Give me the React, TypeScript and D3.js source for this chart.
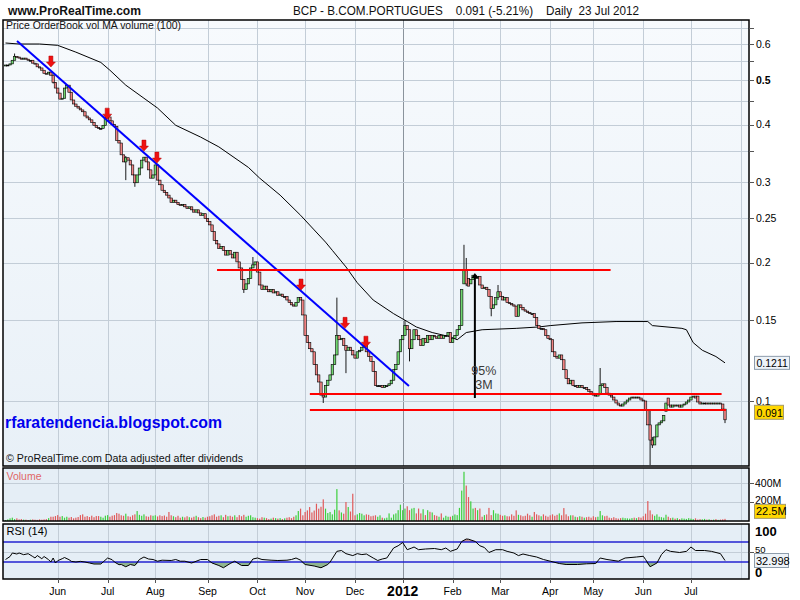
import React from 'react';
import * as d3 from 'd3';

// ---------- DATA ----------
const closes = [
  0.540, 0.540, 0.543, 0.553, 0.564, 0.562, 0.559, 0.556, 0.559, 0.556,
  0.553, 0.553, 0.545, 0.543, 0.535, 0.532, 0.526, 0.518, 0.516, 0.521,
  0.513, 0.495, 0.481, 0.469, 0.455, 0.457, 0.481, 0.488, 0.471, 0.453,
  0.444, 0.439, 0.435, 0.431, 0.427, 0.418, 0.414, 0.410, 0.405, 0.399,
  0.395, 0.393, 0.393, 0.399, 0.414, 0.416, 0.408, 0.401, 0.397, 0.370,
  0.365, 0.344, 0.332, 0.339, 0.335, 0.327, 0.311, 0.299, 0.311, 0.322,
  0.335, 0.340, 0.332, 0.319, 0.306, 0.311, 0.327, 0.303, 0.296, 0.288,
  0.285, 0.281, 0.277, 0.271, 0.274, 0.271, 0.268, 0.267, 0.268, 0.265,
  0.263, 0.265, 0.261, 0.258, 0.261, 0.257, 0.254, 0.256, 0.250, 0.246,
  0.242, 0.234, 0.224, 0.220, 0.215, 0.217, 0.213, 0.208, 0.213, 0.209,
  0.205, 0.211, 0.201, 0.195, 0.184, 0.175, 0.180, 0.185, 0.195, 0.198,
  0.201, 0.191, 0.179, 0.175, 0.178, 0.175, 0.173, 0.175, 0.172, 0.173,
  0.170, 0.171, 0.169, 0.169, 0.166, 0.164, 0.162, 0.161, 0.164, 0.168,
  0.166, 0.154, 0.139, 0.134, 0.130, 0.128, 0.120, 0.114, 0.110, 0.103,
  0.102, 0.108, 0.111, 0.114, 0.120, 0.126, 0.139, 0.136, 0.137, 0.132,
  0.129, 0.131, 0.129, 0.126, 0.124, 0.128, 0.129, 0.131, 0.132, 0.128,
  0.125, 0.122, 0.116, 0.108, 0.108, 0.108, 0.107, 0.108, 0.108, 0.109,
  0.111, 0.117, 0.120, 0.128, 0.136, 0.139, 0.146, 0.143, 0.130, 0.136,
  0.143, 0.139, 0.136, 0.132, 0.137, 0.134, 0.139, 0.136, 0.139, 0.138,
  0.137, 0.139, 0.137, 0.139, 0.139, 0.141, 0.134, 0.137, 0.139, 0.143,
  0.146, 0.175, 0.193, 0.180, 0.178, 0.184, 0.188, 0.185, 0.187, 0.179,
  0.176, 0.177, 0.175, 0.169, 0.159, 0.162, 0.168, 0.173, 0.169, 0.166,
  0.168, 0.164, 0.163, 0.162, 0.161, 0.153, 0.162, 0.160, 0.158, 0.157,
  0.156, 0.155, 0.155, 0.152, 0.146, 0.144, 0.144, 0.143, 0.139, 0.137,
  0.136, 0.128, 0.125, 0.124, 0.126, 0.123, 0.117, 0.112, 0.109, 0.111,
  0.108, 0.108, 0.107, 0.108, 0.107, 0.107, 0.106, 0.105, 0.104, 0.103,
  0.1025, 0.1035, 0.108, 0.109, 0.107, 0.104, 0.103, 0.102, 0.1005, 0.099,
  0.098, 0.0975, 0.0985, 0.0995, 0.1005, 0.1015, 0.102, 0.1015, 0.102, 0.1015,
  0.1005, 0.100, 0.0955, 0.0887, 0.0822, 0.0802, 0.0835, 0.0887, 0.0896, 0.0905,
  0.093, 0.099, 0.098, 0.097, 0.098, 0.0975, 0.098, 0.097, 0.098, 0.0985,
  0.0995, 0.1005, 0.102, 0.1025, 0.1015, 0.0995, 0.0985, 0.099, 0.099, 0.0985,
  0.099, 0.0985, 0.099, 0.0985, 0.099, 0.0985, 0.096, 0.091,
];

const opens = [
  0.538, 0.540, 0.540, 0.543, 0.553, 0.564, 0.562, 0.559, 0.556, 0.559,
  0.556, 0.553, 0.553, 0.545, 0.543, 0.535, 0.532, 0.526, 0.518, 0.516,
  0.521, 0.513, 0.495, 0.481, 0.469, 0.455, 0.457, 0.481, 0.488, 0.471,
  0.453, 0.444, 0.439, 0.435, 0.431, 0.427, 0.418, 0.414, 0.410, 0.405,
  0.399, 0.395, 0.393, 0.393, 0.399, 0.414, 0.416, 0.408, 0.401, 0.397,
  0.370, 0.365, 0.344, 0.332, 0.339, 0.335, 0.327, 0.311, 0.299, 0.311,
  0.322, 0.335, 0.340, 0.332, 0.319, 0.306, 0.311, 0.327, 0.303, 0.296,
  0.288, 0.285, 0.281, 0.277, 0.271, 0.274, 0.271, 0.268, 0.267, 0.268,
  0.265, 0.263, 0.265, 0.261, 0.258, 0.261, 0.257, 0.254, 0.256, 0.250,
  0.246, 0.242, 0.234, 0.224, 0.220, 0.215, 0.217, 0.213, 0.208, 0.213,
  0.209, 0.205, 0.211, 0.201, 0.195, 0.184, 0.175, 0.180, 0.185, 0.195,
  0.198, 0.201, 0.191, 0.179, 0.175, 0.178, 0.175, 0.173, 0.175, 0.172,
  0.173, 0.170, 0.171, 0.169, 0.169, 0.166, 0.164, 0.162, 0.161, 0.164,
  0.168, 0.166, 0.154, 0.139, 0.134, 0.130, 0.128, 0.120, 0.114, 0.110,
  0.103, 0.102, 0.108, 0.111, 0.114, 0.120, 0.126, 0.139, 0.136, 0.137,
  0.132, 0.129, 0.131, 0.129, 0.126, 0.124, 0.128, 0.129, 0.131, 0.132,
  0.128, 0.125, 0.122, 0.116, 0.108, 0.108, 0.108, 0.107, 0.108, 0.108,
  0.109, 0.111, 0.117, 0.120, 0.128, 0.136, 0.139, 0.146, 0.143, 0.130,
  0.136, 0.143, 0.139, 0.136, 0.132, 0.137, 0.134, 0.139, 0.136, 0.139,
  0.138, 0.137, 0.139, 0.137, 0.139, 0.139, 0.141, 0.134, 0.137, 0.139,
  0.143, 0.146, 0.180, 0.193, 0.185, 0.180, 0.184, 0.188, 0.185, 0.187,
  0.179, 0.176, 0.177, 0.175, 0.169, 0.159, 0.162, 0.168, 0.173, 0.169,
  0.166, 0.168, 0.164, 0.163, 0.162, 0.161, 0.153, 0.162, 0.160, 0.158,
  0.157, 0.156, 0.155, 0.155, 0.152, 0.146, 0.144, 0.144, 0.143, 0.139,
  0.137, 0.136, 0.128, 0.125, 0.124, 0.126, 0.123, 0.117, 0.112, 0.109,
  0.111, 0.108, 0.108, 0.107, 0.108, 0.107, 0.107, 0.106, 0.105, 0.104,
  0.103, 0.1025, 0.1035, 0.108, 0.109, 0.107, 0.104, 0.103, 0.102, 0.1005,
  0.099, 0.098, 0.0975, 0.0985, 0.0995, 0.1005, 0.1015, 0.102, 0.1015, 0.102,
  0.1015, 0.1005, 0.100, 0.0955, 0.0887, 0.0822, 0.0802, 0.0835, 0.0887, 0.0896,
  0.0905, 0.095, 0.1015, 0.098, 0.097, 0.098, 0.0975, 0.098, 0.097, 0.098,
  0.0985, 0.0995, 0.1005, 0.102, 0.1025, 0.1025, 0.0995, 0.0985, 0.099, 0.099,
  0.0985, 0.099, 0.0985, 0.099, 0.0985, 0.099, 0.0985, 0.096,
];

// notable wicks: day index, high, low
const wickDays = [4, 21, 44, 53, 57, 105, 109, 140, 146, 150, 176, 178, 202, 203, 214, 217, 262, 284, 285, 317];
const wickHighs = [0.572, 0.515, 0.420, 0.342, 0.311, 0.184, 0.206, 0.103, 0.168, 0.132, 0.150, 0.143, 0.219, 0.205, 0.169, 0.179, 0.118, 0.0955, 0.0835, 0.096];
const wickLows = [0.553, 0.492, 0.399, 0.303, 0.293, 0.172, 0.195, 0.099, 0.126, 0.115, 0.139, 0.122, 0.180, 0.178, 0.153, 0.166, 0.103, 0.0725, 0.079, 0.0895];

const volumes = [
  10, 17, 28, 35, 20, 28, 17, 20, 15, 14,
  10, 14, 17, 14, 12, 17, 14, 17, 20, 30,
  45, 45, 52, 62, 45, 52, 35, 45, 35, 42,
  28, 35, 42, 62, 70, 45, 52, 42, 56, 40,
  52, 52, 45, 35, 56, 62, 45, 56, 62, 84,
  77, 60, 55, 77, 50, 45, 60, 70, 105, 65,
  55, 70, 50, 45, 60, 55, 60, 48, 60, 52,
  58, 45, 95, 60, 50, 40, 55, 35, 45, 38,
  50, 40, 35, 45, 55, 40, 30, 42, 35, 45,
  50, 60, 70, 45, 55, 60, 40, 65, 50, 55,
  45, 60, 40, 62, 50, 65, 45, 55, 60, 40,
  35, 30, 25, 40, 35, 30, 20, 25, 35, 30,
  25, 30, 20, 28, 35, 40, 30, 45, 60, 105,
  130, 60, 95, 112, 147, 90, 110, 182, 130, 150,
  228, 130, 84, 95, 70, 119, 336, 112, 90, 77,
  200, 147, 100, 287, 60, 70, 84, 77, 60, 70,
  65, 50, 55, 60, 45, 60, 35, 28, 35, 80,
  35, 69, 80, 114, 172, 114, 131, 155, 114, 131,
  138, 80, 131, 80, 124, 62, 114, 97, 90, 62,
  55, 45, 80, 35, 55, 45, 45, 55, 69, 62,
  138, 320, 518, 373, 252, 207, 131, 138, 114, 131,
  45, 62, 69, 138, 62, 114, 80, 77, 65, 55,
  60, 50, 49, 70, 55, 112, 65, 60, 50, 55,
  77, 60, 45, 95, 70, 60, 50, 70, 55, 45,
  60, 70, 55, 65, 80, 60, 136, 70, 50, 60,
  60, 45, 40, 50, 45, 35, 40, 45, 35, 50,
  40, 45, 105, 60, 50, 55, 35, 30, 40, 30,
  25, 30, 35, 30, 28, 25, 30, 35, 30, 40,
  35, 50, 77, 210, 112, 70, 55, 70, 45, 40,
  35, 66, 45, 30, 35, 25, 30, 20, 28, 25,
  22, 30, 25, 20, 28, 15, 20, 18, 22, 15,
  18, 12, 15, 20, 12, 15, 18, 22.5,
];

// 100-day moving average (day index, value)
const maDays = [0, 6, 15, 23, 31, 42, 46, 53, 61, 67, 75, 86, 94, 107, 112, 121, 130, 136, 141, 144, 150, 155, 162, 171, 177, 181, 188, 196, 199, 203, 210, 225, 235, 240, 254, 269, 283, 285, 298, 300, 303, 307, 313, 317];
const maValues = [0.603, 0.600, 0.600, 0.596, 0.576, 0.547, 0.526, 0.488, 0.457, 0.435, 0.399, 0.376, 0.358, 0.323, 0.306, 0.281, 0.254, 0.236, 0.222, 0.213, 0.196, 0.181, 0.166, 0.155, 0.149, 0.145, 0.141, 0.138, 0.136, 0.141, 0.143, 0.144, 0.145, 0.146, 0.148, 0.149, 0.149, 0.146, 0.144, 0.143, 0.134, 0.129, 0.125, 0.1211];

// RSI(14) (day index, value)
const rsiDays = [0, 2, 3, 5, 6, 8, 10, 12, 13, 14, 16, 17, 19, 20, 21, 22, 23, 25, 26, 28, 29, 31, 33, 35, 37, 39, 42, 43, 45, 47, 48, 50, 51, 53, 55, 57, 59, 61, 63, 65, 67, 69, 73, 75, 77, 79, 82, 86, 89, 91, 94, 96, 99, 101, 104, 107, 109, 111, 113, 117, 120, 124, 126, 128, 130, 132, 136, 139, 142, 143, 146, 148, 150, 153, 155, 157, 159, 162, 164, 166, 168, 171, 173, 175, 177, 179, 180, 182, 185, 189, 192, 194, 196, 199, 201, 203, 204, 207, 209, 211, 213, 216, 219, 221, 224, 226, 228, 231, 234, 237, 240, 244, 247, 252, 256, 260, 262, 265, 270, 273, 278, 281, 282, 284, 287, 289, 291, 293, 297, 300, 302, 304, 308, 311, 315, 317];
const rsiValues = [35, 41, 48, 46, 48, 44.6, 46.6, 41, 38, 43, 36.6, 41, 34.6, 30, 38, 28, 32.6, 36.6, 39, 34.6, 31.3, 30, 31.3, 30, 28, 26, 26, 30, 38, 34.6, 30, 24.6, 25, 20.5, 25, 23, 35, 40, 36, 35, 31.6, 33.6, 33, 35, 31.6, 31.6, 28, 35, 35, 28, 23, 18.5, 27, 31.6, 23, 23, 36, 38, 35, 33.6, 33, 33.6, 35, 38, 33.6, 25, 22, 18.5, 25, 29.7, 51.3, 53, 46.7, 42.8, 46.7, 44.8, 46, 38, 33, 36, 38, 58, 62.5, 69, 54.6, 58, 60, 54.6, 56, 57, 54.6, 58, 51.3, 56, 71, 76, 75.6, 71, 62.5, 59, 49, 54.6, 54.6, 51.3, 48, 42.8, 46, 42.8, 40, 35, 31.6, 27, 25, 25, 26.4, 27, 38, 35, 31.6, 38, 40, 41.5, 35, 20.5, 28, 44.8, 54.6, 51.3, 49, 51.3, 60, 53, 53, 51.3, 46.7, 33];

// annotations
const arrowDays = [20, 44.8, 61, 66.7, 130.2, 149.6, 158.8];
const arrowPrices = [0.5345, 0.4115, 0.3505, 0.330, 0.1745, 0.144, 0.131];
const trendDays = [5.07, 177.75];
const trendPrices = [0.609, 0.1078];
const hLineStart = [93.2, 134.1, 134.1];
const hLineEnd = [266.6, 315.5, 317.4];
const hLinePrice = [0.193, 0.1036, 0.0956];
const measureDay = 206.8;
const measureFrom = 0.1015;
const measureTo = 0.190;

const monthTickDays = [23, 45, 66, 89, 111, 132, 154, 175, 197, 218, 240, 259, 281, 302, 324];
const monthTickLabels = ['Jun', 'Jul', 'Aug', 'Sep', 'Oct', 'Nov', 'Dec', '2012', 'Feb', 'Mar', 'Apr', 'May', 'Jun', 'Jul', ''];
const priceTicks = [0.6, 0.5, 0.4, 0.3, 0.25, 0.2, 0.15, 0.1];
const priceTickLabels = ['0.6', '0.5', '0.4', '0.3', '0.25', '0.2', '0.15', '0.1'];
const priceMinorTicks = [0.65, 0.55, 0.45, 0.35];
const volumeTicks = [200, 400];
const volumeTickLabels = ['200M', '400M'];

const FONT = "'Liberation Sans', Arial, Helvetica, sans-serif";

export default function App() {
  const L = 3, R = 749;
  const main = { top: 20, bottom: 466 };
  const vol = { top: 468, bottom: 521 };
  const rsiP = { top: 524, bottom: 579 };

  const x = d3.scaleLinear().domain([0, 317]).range([5.5, 725]);
  const yP = d3.scaleLog().domain([0.1, 0.6]).range([401, 44]);
  const yV = d3.scaleLinear().domain([0, 400]).range([521, 483]);
  const yR = d3.scaleLinear().domain([0, 100]).range([577, 527]);

  const maLine = d3.line<number>().x((d, i) => x(maDays[i])).y((d) => yP(d));
  const rsiLine = d3.line<number>().x((d, i) => x(rsiDays[i])).y((d) => yR(d));
  const rsiLow = d3.area<number>().x((d, i) => x(rsiDays[i])).y0(yR(30)).y1((d) => yR(Math.min(d, 30)));
  const rsiHigh = d3.area<number>().x((d, i) => x(rsiDays[i])).y0(yR(70)).y1((d) => yR(Math.max(d, 70)));

  const greenFill = '#6fd66f';
  const redFill = '#f08282';

  const lastClose = closes[closes.length - 1];
  const lastMA = maValues[maValues.length - 1];
  const lastVol = volumes[volumes.length - 1];
  const lastRsi = 32.998;

  const gridColor = '#c3cdd7';

  const vGrid = (top: number, bottom: number) =>
    monthTickDays.map((d, k) => (
      <line key={'vg' + top + k} x1={Math.round(x(d)) + 0.5} x2={Math.round(x(d)) + 0.5} y1={top} y2={bottom}
        stroke={monthTickLabels[k] === '2012' ? '#8a939c' : gridColor} strokeWidth={1} />
    ));

  return (
    <svg width={800} height={600} viewBox="0 0 800 600"
      style={{ position: 'absolute', left: 0, top: 0, display: 'block', background: '#ffffff' }}
      fontFamily={FONT}>
      <defs>
        <linearGradient id="mainBg" x1="0" y1="0" x2="0" y2="1">
          <stop offset="0" stopColor="#f7fafd" />
          <stop offset="1" stopColor="#e8f0f7" />
        </linearGradient>
        <clipPath id="clipMain"><rect x={L} y={main.top} width={R - L} height={main.bottom - main.top} /></clipPath>
        <clipPath id="clipVol"><rect x={L} y={vol.top} width={R - L} height={vol.bottom - vol.top} /></clipPath>
        <clipPath id="clipRsi"><rect x={L} y={rsiP.top} width={R - L} height={rsiP.bottom - rsiP.top} /></clipPath>
      </defs>
      <rect x={0} y={0} width={800} height={600} fill="#ffffff" />

      {/* header */}
      <text x={8} y={15} fontSize={13} fontWeight="bold" fill="#111" textLength={133} lengthAdjust="spacingAndGlyphs">www.ProRealTime.com</text>
      <text x={293} y={15} fontSize={13} fill="#111" textLength={346} lengthAdjust="spacingAndGlyphs" xmlSpace="preserve">BCP - B.COM.PORTUGUES    0.091 (-5.21%)    Daily  23 Jul 2012</text>

      {/* ---------- MAIN PANEL ---------- */}
      <rect x={L} y={main.top} width={R - L} height={main.bottom - main.top} fill="url(#mainBg)" />
      {vGrid(main.top, main.bottom)}
      {[...priceTicks, ...priceMinorTicks].map((p, k) => (
        <line key={'hg' + k} x1={L} x2={R} y1={Math.round(yP(p)) + 0.5} y2={Math.round(yP(p)) + 0.5} stroke={gridColor} strokeWidth={1} />
      ))}

      <g clipPath="url(#clipMain)">
        {/* moving average */}
        <path d={maLine(maValues) || ''} fill="none" stroke="#000" strokeWidth={1} />
        {/* candles */}
        {closes.map((c, i) => {
          const o = opens[i];
          const w = wickDays.indexOf(i);
          const hi = w >= 0 ? wickHighs[w] : Math.max(o, c);
          const lo = w >= 0 ? wickLows[w] : Math.min(o, c);
          const cx = x(i);
          const yTop = yP(Math.max(o, c));
          const yBot = yP(Math.min(o, c));
          const h = Math.max(1, yBot - yTop);
          const fill = c > o ? greenFill : c < o ? redFill : '#000';
          return (
            <g key={'c' + i}>
              <line x1={cx} x2={cx} y1={yP(hi)} y2={yP(lo)} stroke="#000" strokeWidth={0.9} />
              <rect x={cx - 1.2} y={yTop} width={2.4} height={h} fill={fill} stroke="#000" strokeWidth={0.6} />
            </g>
          );
        })}
        {/* trend line */}
        <line x1={x(trendDays[0])} y1={yP(trendPrices[0])} x2={x(trendDays[1])} y2={yP(trendPrices[1])} stroke="#0000ff" strokeWidth={2} />
        {/* horizontal support / resistance lines */}
        {hLinePrice.map((p, k) => (
          <line key={'hl' + k} x1={x(hLineStart[k])} x2={x(hLineEnd[k])} y1={yP(p)} y2={yP(p)} stroke="#ff0000" strokeWidth={2} />
        ))}
        {/* measurement line */}
        <line x1={x(measureDay)} x2={x(measureDay)} y1={yP(measureFrom)} y2={yP(measureTo) + 4} stroke="#000" strokeWidth={2} />
        <path d={`M${x(measureDay) - 3.5},${yP(measureTo) + 5} L${x(measureDay)},${yP(measureTo)} L${x(measureDay) + 3.5},${yP(measureTo) + 5} Z`} fill="#000" />
        <text x={x(measureDay) + 9} y={375} fontSize={12.5} fill="#3a3a3a" textAnchor="middle">95%</text>
        <text x={x(measureDay) + 9} y={389} fontSize={12.5} fill="#3a3a3a" textAnchor="middle">3M</text>
        {/* red arrows */}
        {arrowDays.map((d, k) => {
          const ax = x(d);
          const ay = yP(arrowPrices[k]);
          return (
            <path key={'ar' + k}
              d={`M${ax - 2},${ay - 11} L${ax + 2},${ay - 11} L${ax + 2},${ay - 5} L${ax + 4.5},${ay - 5} L${ax},${ay} L${ax - 4.5},${ay - 5} L${ax - 2},${ay - 5} Z`}
              fill="#f01010" stroke="#b00000" strokeWidth={0.5} />
          );
        })}
      </g>

      <text x={6} y={29} fontSize={11} fill="#111" textLength={175} lengthAdjust="spacingAndGlyphs">Price OrderBook vol MA volume (100)</text>
      <text x={5} y={428} fontSize={16} fontWeight="bold" fill="#0000ee" textLength={217} lengthAdjust="spacingAndGlyphs">rfaratendencia.blogspot.com</text>
      <text x={6} y={462} fontSize={11} fill="#111" textLength={237} lengthAdjust="spacingAndGlyphs">© ProRealTime.com  Data adjusted after dividends</text>
      <rect x={L} y={main.top} width={R - L} height={main.bottom - main.top} fill="none" stroke="#000" strokeWidth={1.5} />

      {/* price axis */}
      {priceTicks.map((p, k) => (
        <g key={'pt' + k}>
          <line x1={R} x2={R + 5} y1={Math.round(yP(p)) + 0.5} y2={Math.round(yP(p)) + 0.5} stroke="#555" />
          <text x={R + 7} y={yP(p) + 3.5} fontSize={10.5} fontWeight={p === 0.5 ? 'bold' : 'normal'} fill="#000">{priceTickLabels[k]}</text>
        </g>
      ))}
      {priceMinorTicks.map((p, k) => (
        <line key={'pm' + k} x1={R} x2={R + 5} y1={Math.round(yP(p)) + 0.5} y2={Math.round(yP(p)) + 0.5} stroke="#555" />
      ))}
      <rect x={754.5} y={yP(lastMA) - 6.5} width={35} height={13} fill="#eef3f8" stroke="#8d9cab" />
      <text x={756.5} y={yP(lastMA) + 4} fontSize={10.5} fill="#000">{lastMA.toFixed(4)}</text>
      <rect x={754.5} y={yP(lastClose) - 14.5} width={29} height={14} fill="#ffd700" stroke="#a59b6a" />
      <text x={756.5} y={yP(lastClose) - 2.8} fontSize={10.5} fill="#000">{lastClose.toFixed(3)}</text>

      {/* ---------- VOLUME PANEL ---------- */}
      <rect x={L} y={vol.top} width={R - L} height={vol.bottom - vol.top} fill="#e5eef6" />
      {vGrid(vol.top, vol.bottom)}
      {volumeTicks.map((v, k) => (
        <line key={'vgh' + k} x1={L} x2={R} y1={Math.round(yV(v)) + 0.5} y2={Math.round(yV(v)) + 0.5} stroke={gridColor} />
      ))}
      <g clipPath="url(#clipVol)">
        {volumes.map((v, i) => (
          <rect key={'v' + i} x={x(i) - 0.6} y={yV(v)} width={1.2} height={yV(0) - yV(v)}
            fill={closes[i] >= opens[i] ? '#3fcf3f' : '#e05a5a'} />
        ))}
      </g>
      <text x={6.5} y={480} fontSize={10.5} fill="#e06666">Volume</text>
      <rect x={L} y={vol.top} width={R - L} height={vol.bottom - vol.top} fill="none" stroke="#000" strokeWidth={1.5} />
      {volumeTicks.map((v, k) => (
        <g key={'vt' + k}>
          <line x1={R} x2={R + 5} y1={Math.round(yV(v)) + 0.5} y2={Math.round(yV(v)) + 0.5} stroke="#555" />
          <text x={R + 6} y={k === 0 ? yV(v) + 2 : yV(v) + 4} fontSize={10.5} fill="#000">{volumeTickLabels[k]}</text>
        </g>
      ))}
      <rect x={754.5} y={yV(lastVol) - 14.5} width={31} height={14} fill="#ffd700" stroke="#a59b6a" />
      <text x={756} y={yV(lastVol) - 3.5} fontSize={11} fill="#000">{lastVol + 'M'}</text>

      {/* ---------- RSI PANEL ---------- */}
      <rect x={L} y={rsiP.top} width={R - L} height={rsiP.bottom - rsiP.top} fill="#e5eef6" />
      {vGrid(rsiP.top, rsiP.bottom)}
      <line x1={L} x2={R} y1={Math.round(yR(50)) + 0.5} y2={Math.round(yR(50)) + 0.5} stroke={gridColor} />
      <g clipPath="url(#clipRsi)">
        <path d={rsiLow(rsiValues) || ''} fill="#8fb58f" stroke="none" />
        <path d={rsiHigh(rsiValues) || ''} fill="#c49595" stroke="none" />
        <line x1={L} x2={R} y1={yR(70)} y2={yR(70)} stroke="#2323d0" strokeWidth={1.3} />
        <line x1={L} x2={R} y1={yR(30)} y2={yR(30)} stroke="#2323d0" strokeWidth={1.3} />
        <path d={rsiLine(rsiValues) || ''} fill="none" stroke="#000" strokeWidth={1} />
      </g>
      <text x={6.5} y={535} fontSize={11} fill="#000">RSI (14)</text>
      <rect x={L} y={rsiP.top} width={R - L} height={rsiP.bottom - rsiP.top} fill="none" stroke="#000" strokeWidth={1.5} />
      <line x1={R} x2={R + 5} y1={Math.round(yR(50)) + 0.5} y2={Math.round(yR(50)) + 0.5} stroke="#555" />
      <text x={R + 6} y={yR(50) + 0.5} fontSize={9.5} fill="#000">50</text>
      <text x={R + 6} y={536} fontSize={13} fontWeight="bold" fill="#000">100</text>
      <text x={R + 6} y={577} fontSize={13} fontWeight="bold" fill="#000">0</text>
      <rect x={754.5} y={yR(lastRsi) - 7} width={34} height={14} fill="#eef3f8" stroke="#8d9cab" />
      <text x={756} y={yR(lastRsi) + 4} fontSize={11} fill="#000">{lastRsi.toFixed(3)}</text>

      {/* date axis */}
      {monthTickDays.map((d, k) => (
        monthTickLabels[k] ? (
          <g key={'mt' + k}>
            <line x1={Math.round(x(d)) + 0.5} x2={Math.round(x(d)) + 0.5} y1={rsiP.bottom} y2={rsiP.bottom + 4} stroke="#555" />
            <text x={x(d)} y={monthTickLabels[k] === '2012' ? 596 : 595} textAnchor="middle"
              fontSize={monthTickLabels[k] === '2012' ? 14 : 10.5} fontWeight={monthTickLabels[k] === '2012' ? 'bold' : 'normal'} fill="#000">
              {monthTickLabels[k]}
            </text>
          </g>
        ) : null
      ))}
    </svg>
  );
}
